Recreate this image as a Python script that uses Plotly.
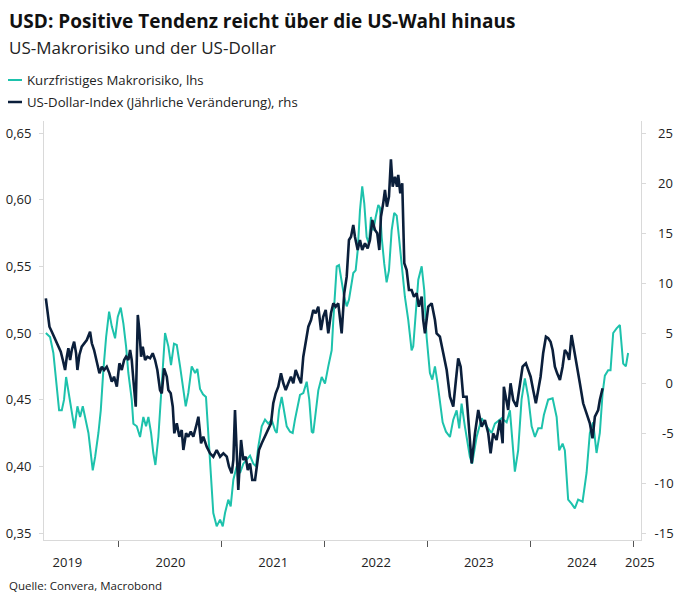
import pandas as pd
import plotly.graph_objects as go

# ---------------- data (decimal years) ----------------
risk_t = [2019.289, 2019.330, 2019.362, 2019.396, 2019.418, 2019.444, 2019.466, 2019.486, 2019.525, 2019.567,
          2019.596, 2019.622, 2019.648, 2019.671, 2019.703, 2019.745, 2019.768, 2019.800, 2019.823, 2019.848,
          2019.875, 2019.904, 2019.930, 2019.962, 2019.988, 2020.017, 2020.043, 2020.069, 2020.091, 2020.124,
          2020.140, 2020.173, 2020.205, 2020.237, 2020.263, 2020.286, 2020.312, 2020.334, 2020.354, 2020.383,
          2020.406, 2020.426, 2020.448, 2020.480, 2020.506, 2020.535, 2020.562, 2020.594, 2020.626, 2020.649,
          2020.674, 2020.707, 2020.740, 2020.762, 2020.788, 2020.817, 2020.846, 2020.869, 2020.902, 2020.917,
          2020.950, 2020.983, 2021.009, 2021.031, 2021.063, 2021.086, 2021.112, 2021.145, 2021.177, 2021.209,
          2021.242, 2021.274, 2021.306, 2021.332, 2021.355, 2021.388, 2021.420, 2021.452, 2021.485, 2021.517,
          2021.534, 2021.556, 2021.582, 2021.604, 2021.631, 2021.663, 2021.689, 2021.711, 2021.734, 2021.760,
          2021.792, 2021.825, 2021.850, 2021.874, 2021.889, 2021.915, 2021.938, 2021.971, 2022.003, 2022.035,
          2022.068, 2022.084, 2022.117, 2022.139, 2022.165, 2022.190, 2022.214, 2022.236, 2022.278, 2022.301,
          2022.321, 2022.343, 2022.365, 2022.385, 2022.408, 2022.430, 2022.450, 2022.472, 2022.496, 2022.521,
          2022.537, 2022.554, 2022.579, 2022.602, 2022.625, 2022.651, 2022.676, 2022.700, 2022.722, 2022.748,
          2022.780, 2022.812, 2022.845, 2022.861, 2022.884, 2022.910, 2022.943, 2022.968, 2022.991, 2023.023,
          2023.046, 2023.072, 2023.098, 2023.120, 2023.147, 2023.179, 2023.218, 2023.250, 2023.283, 2023.308,
          2023.331, 2023.363, 2023.412, 2023.434, 2023.477, 2023.526, 2023.574, 2023.623, 2023.655, 2023.720,
          2023.769, 2023.801, 2023.849, 2023.881, 2023.914, 2023.946, 2023.979, 2024.012, 2024.044, 2024.076,
          2024.109, 2024.131, 2024.173, 2024.216, 2024.255, 2024.280, 2024.313, 2024.335, 2024.367, 2024.400,
          2024.432, 2024.464, 2024.507, 2024.546, 2024.578, 2024.610, 2024.643, 2024.675, 2024.702, 2024.724,
          2024.756, 2024.779, 2024.805, 2024.838, 2024.870, 2024.902, 2024.928, 2024.950]
risk_v = [0.500, 0.497, 0.485, 0.457, 0.442, 0.442, 0.450, 0.467, 0.450, 0.4285,
          0.445, 0.437, 0.445, 0.437, 0.425, 0.397, 0.407, 0.425, 0.442, 0.472,
          0.497, 0.516, 0.505, 0.496, 0.512, 0.519, 0.507, 0.490, 0.470, 0.450,
          0.432, 0.430, 0.422, 0.437, 0.430, 0.437, 0.425, 0.410, 0.401, 0.422,
          0.450, 0.477, 0.500, 0.490, 0.476, 0.492, 0.491, 0.475, 0.457, 0.445,
          0.455, 0.475, 0.470, 0.473, 0.458, 0.454, 0.452, 0.422, 0.385, 0.365,
          0.355, 0.360, 0.355, 0.365, 0.375, 0.370, 0.390, 0.400, 0.395, 0.402,
          0.405, 0.408, 0.402, 0.400, 0.415, 0.430, 0.435, 0.432, 0.435, 0.427,
          0.425, 0.442, 0.452, 0.442, 0.430, 0.426, 0.425, 0.435, 0.445, 0.4535,
          0.455, 0.4635, 0.450, 0.426, 0.425, 0.440, 0.457, 0.467, 0.462, 0.475,
          0.487, 0.510, 0.550, 0.551, 0.540, 0.527, 0.520, 0.525, 0.545, 0.547,
          0.562, 0.592, 0.610, 0.597, 0.572, 0.567, 0.587, 0.577, 0.587, 0.596,
          0.594, 0.572, 0.552, 0.538, 0.547, 0.577, 0.590, 0.588, 0.572, 0.550,
          0.527, 0.510, 0.487, 0.490, 0.512, 0.540, 0.550, 0.532, 0.497, 0.470,
          0.465, 0.475, 0.462, 0.447, 0.433, 0.426, 0.422, 0.435, 0.442, 0.4285,
          0.447, 0.430, 0.407, 0.402, 0.422, 0.436, 0.430, 0.425, 0.432, 0.436,
          0.433, 0.442, 0.396, 0.412, 0.450, 0.466, 0.452, 0.430, 0.422, 0.4285,
          0.4285, 0.4385, 0.450, 0.451, 0.437, 0.412, 0.417, 0.412, 0.375, 0.372,
          0.3685, 0.375, 0.3735, 0.395, 0.425, 0.433, 0.410, 0.425, 0.455, 0.468,
          0.472, 0.472, 0.500, 0.5035, 0.506, 0.477, 0.475, 0.485]

usd_t = [2019.289, 2019.304, 2019.324, 2019.347, 2019.369, 2019.396, 2019.411, 2019.434, 2019.454, 2019.476,
         2019.493, 2019.508, 2019.525, 2019.541, 2019.564, 2019.583, 2019.596, 2019.615, 2019.638, 2019.661,
         2019.687, 2019.719, 2019.736, 2019.758, 2019.784, 2019.810, 2019.833, 2019.855, 2019.881, 2019.907,
         2019.930, 2019.952, 2019.979, 2020.004, 2020.027, 2020.050, 2020.069, 2020.091, 2020.108, 2020.124,
         2020.140, 2020.163, 2020.183, 2020.198, 2020.215, 2020.231, 2020.254, 2020.276, 2020.302, 2020.328,
         2020.351, 2020.373, 2020.399, 2020.416, 2020.438, 2020.465, 2020.480, 2020.503, 2020.523, 2020.538,
         2020.562, 2020.587, 2020.610, 2020.626, 2020.652, 2020.674, 2020.698, 2020.723, 2020.749, 2020.772,
         2020.798, 2020.820, 2020.853, 2020.885, 2020.917, 2020.950, 2020.983, 2021.015, 2021.048, 2021.070,
         2021.096, 2021.112, 2021.128, 2021.145, 2021.160, 2021.187, 2021.209, 2021.232, 2021.252, 2021.274,
         2021.296, 2021.323, 2021.342, 2021.361, 2021.388, 2021.420, 2021.452, 2021.478, 2021.500, 2021.524,
         2021.549, 2021.575, 2021.598, 2021.621, 2021.646, 2021.672, 2021.695, 2021.718, 2021.743, 2021.770,
         2021.792, 2021.815, 2021.841, 2021.867, 2021.889, 2021.912, 2021.938, 2021.964, 2021.986, 2022.010,
         2022.035, 2022.061, 2022.084, 2022.107, 2022.132, 2022.165, 2022.190, 2022.214, 2022.236, 2022.256,
         2022.278, 2022.294, 2022.321, 2022.343, 2022.365, 2022.392, 2022.418, 2022.440, 2022.463, 2022.489,
         2022.511, 2022.531, 2022.547, 2022.569, 2022.586, 2022.605, 2022.625, 2022.644, 2022.661, 2022.683,
         2022.703, 2022.715, 2022.735, 2022.754, 2022.774, 2022.797, 2022.819, 2022.845, 2022.868, 2022.894,
         2022.916, 2022.943, 2022.958, 2022.975, 2023.007, 2023.040, 2023.072, 2023.088, 2023.120, 2023.153,
         2023.186, 2023.218, 2023.250, 2023.276, 2023.298, 2023.322, 2023.347, 2023.380, 2023.405, 2023.429,
         2023.461, 2023.493, 2023.526, 2023.558, 2023.590, 2023.613, 2023.638, 2023.671, 2023.704, 2023.730,
         2023.742, 2023.762, 2023.784, 2023.807, 2023.833, 2023.866, 2023.898, 2023.924, 2023.956, 2023.979,
         2024.002, 2024.027, 2024.053, 2024.076, 2024.099, 2024.124, 2024.151, 2024.173, 2024.196, 2024.216,
         2024.238, 2024.260, 2024.287, 2024.313, 2024.335, 2024.358, 2024.377, 2024.400, 2024.423, 2024.449,
         2024.481, 2024.513, 2024.546, 2024.578, 2024.604, 2024.627, 2024.659, 2024.675, 2024.702]
usd_v = [8.47, 7.3, 5.63, 5.13, 4.63, 4.13, 3.63, 3.13, 2.3, 1.3,
         2.63, 3.47, 2.3, 3.3, 4.13, 2.97, 1.3, 2.8, 3.63, 3.97,
         4.3, 5.13, 3.97, 3.3, 1.97, 0.97, 1.63, 1.3, 1.63, 0.97,
         0.13, 0.63, -0.37, 1.97, 1.3, 2.3, 2.63, 2.3, 3.3, 2.3,
         0.3, -2.37, 6.8, 5.3, 2.63, 3.63, 2.3, 2.63, 2.47, 2.97,
         2.3, 1.3, -0.7, -1.03, 1.47, 0.63, -0.7, -1.03, -2.37, -5.03,
         -4.03, -5.37, -4.7, -6.7, -5.03, -5.37, -4.87, -5.37, -4.37, -3.37,
         -6.03, -5.37, -6.37, -7.03, -7.37, -6.7, -7.37, -7.03, -7.37, -8.37,
         -9.03, -7.7, -2.7, -6.7, -10.7, -5.7, -7.7, -7.37, -8.7, -8.03,
         -9.7, -9.7, -8.37, -6.7, -6.03, -5.37, -4.7, -4.03, -2.03, -1.03,
         -0.37, 0.97, -0.03, -0.7, -0.03, 0.63, -0.03, 1.3, 0.63, -0.03,
         2.63, 3.97, 5.63, 6.3, 7.3, 6.97, 7.63, 5.3, 6.63, 7.3,
         4.97, 6.97, 7.97, 7.63, 7.97, 4.97, 8.97, 10.63, 14.3, 14.63,
         15.8, 14.63, 13.3, 14.3, 13.3, 13.97, 13.47, 14.3, 16.3, 15.3,
         14.97, 13.3, 16.63, 17.97, 19.3, 17.63, 18.63, 22.37, 19.63, 20.63,
         19.63, 20.8, 18.97, 19.97, 11.97, 11.3, 9.3, 9.3, 8.63, 8.97,
         7.63, 8.63, 6.3, 4.97, 7.63, 7.97, 6.3, 4.97, 4.63, 2.97,
         1.3, -1.37, -2.37, 0.3, 2.47, 1.63, -1.37, -1.37, -4.37, -8.03,
         -5.03, -2.7, -4.37, -3.7, -5.03, -7.03, -5.03, -5.7, -3.7, -6.03,
         -0.37, -1.7, -2.7, -0.03, -1.7, -2.37, -0.37, 1.63, 1.97, 1.3,
         0.63, -0.7, -2.03, -0.7, 0.63, 2.97, 4.63, 4.47, 4.13, 3.3,
         1.63, 0.97, 0.3, 1.63, 3.3, 2.97, 2.3, 4.8, 3.3, 1.63,
         -0.03, -2.03, -3.03, -4.03, -5.53, -3.37, -2.7, -1.7, -0.53]

year_labels = ["2019", "2020", "2021", "2022", "2023", "2024", "2025"]
year_label_pos = ["2019-07-02", "2020-07-02", "2021-07-02", "2022-07-02", "2023-07-02", "2024-07-02", "2025-01-24"]
year_bounds = ["2020-01-01", "2021-01-01", "2022-01-01", "2023-01-01", "2024-01-01", "2025-01-01"]
lhs_ticks = [0.35, 0.40, 0.45, 0.50, 0.55, 0.60, 0.65]
rhs_ticks = [-15, -10, -5, 0, 5, 10, 15, 20, 25]
rhs_text = ["-15", "-10", "\u2007-5", "\u2007\u20080", "\u2007\u20085", "\u200810", "\u200815", "\u200820", "\u200825"]

TEAL = "#1DC2AC"
NAVY = "#0B1F3B"
GREY = "#D9D9D9"
FONT = "Open Sans"


def to_dates(ts):
    base = pd.Timestamp("2019-01-01")
    return [base + pd.to_timedelta((t - 2019.0) * 365.25, unit="D") for t in ts]


fig = go.Figure()
fig.add_trace(go.Scatter(x=to_dates(risk_t), y=risk_v, mode="lines", name="Kurzfristiges Makrorisiko, lhs",
                         line=dict(color=TEAL, width=2), yaxis="y"))
fig.add_trace(go.Scatter(x=to_dates(usd_t), y=usd_v, mode="lines", name="US-Dollar-Index (Jährliche Veränderung), rhs",
                         line=dict(color=NAVY, width=2.6), yaxis="y2"))

L, R, T, B = 44, 39, 121, 64
W, H = 680, 604
pw, ph = W - L - R, H - T - B


def px(x):
    return (x - L) / pw


def py(y):
    return (H - B - y) / ph


fig.update_layout(
    width=W, height=H,
    margin=dict(l=L, r=R, t=T, b=B, autoexpand=False),
    paper_bgcolor="white", plot_bgcolor="white",
    separators=",.",
    showlegend=False,
    font=dict(family=FONT, color="#222222", size=13),
    xaxis=dict(
        type="date", range=["2019-04-10", "2025-01-28"], automargin=False,
        tickvals=year_label_pos, ticktext=year_labels, ticks="", showgrid=False,
        showline=True, linecolor=GREY, linewidth=1, zeroline=False,
        tickfont=dict(size=13, color="#222222"), ticklabelstandoff=10,
        minor=dict(tickvals=year_bounds, ticks="outside", ticklen=6, tickcolor="#555555", tickwidth=1, showgrid=False),
    ),
    yaxis=dict(
        range=[0.34475, 0.659], tickvals=lhs_ticks, tickformat=".2f", ticks="outside", ticklen=4, automargin=False,
        tickcolor=GREY, showgrid=False, zeroline=False, showline=True, linecolor=GREY, linewidth=1,
        tickfont=dict(size=13, color="#222222"), ticklabelstandoff=5,
    ),
    yaxis2=dict(
        range=[-15.7, 26.2], overlaying="y", side="right", tickvals=rhs_ticks, ticktext=rhs_text, automargin=False,
        ticks="outside", ticklen=4, tickcolor=GREY, showgrid=False, zeroline=False,
        showline=True, linecolor=GREY, linewidth=1, tickfont=dict(size=13, color="#222222"), ticklabelstandoff=6,
    ),
)

ann = [
    dict(text="<b>USD: Positive Tendenz reicht über die US-Wahl hinaus</b>", x=px(6.5), y=py(21),
         font=dict(size=19, color="#111111")),
    dict(text="US-Makrorisiko und der US-Dollar", x=px(6.5), y=py(47), font=dict(size=17, color="#222222")),
    dict(text="Kurzfristiges Makrorisiko, lhs", x=px(24.5), y=py(80), font=dict(size=13.2, color="#222222")),
    dict(text="US-Dollar-Index (Jährliche Veränderung), rhs", x=px(24.5), y=py(102), font=dict(size=13.2, color="#222222")),
    dict(text="Quelle: Convera, Macrobond", x=px(6.5), y=py(585), font=dict(size=11.5, color="#222222")),
]
for a in ann:
    fig.add_annotation(xref="paper", yref="paper", xanchor="left", yanchor="middle", showarrow=False, **a)

fig.add_shape(type="line", xref="paper", yref="paper", x0=px(8), x1=px(22), y0=py(80), y1=py(80),
              line=dict(color=TEAL, width=2))
fig.add_shape(type="line", xref="paper", yref="paper", x0=px(8), x1=px(22), y0=py(102), y1=py(102),
              line=dict(color=NAVY, width=2.5))

fig.write_html("out.html", config={"displayModeBar": False},
               post_script="document.body.style.margin='0px';document.body.style.padding='0px';")
